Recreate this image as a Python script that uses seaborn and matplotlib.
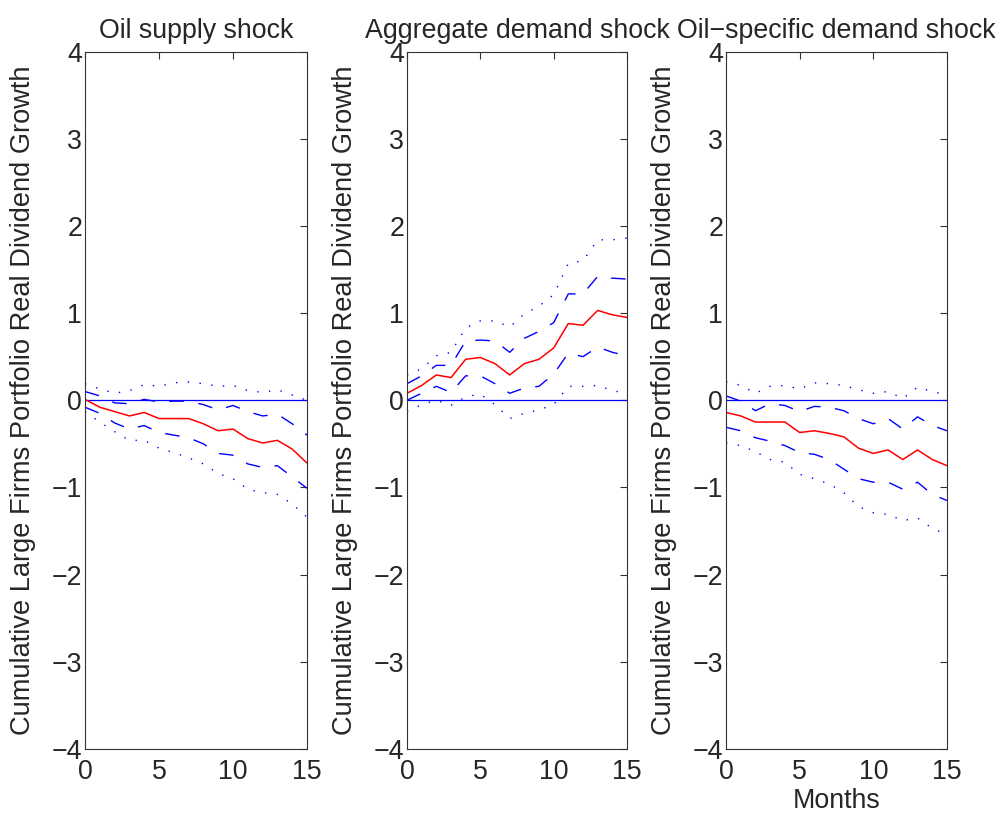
import numpy as np
import pandas as pd
import seaborn as sns
import matplotlib.pyplot as plt

# impulse responses, months 0..15
months = list(range(16))

titles = ["Oil supply shock", "Aggregate demand shock", "Oil\u2212specific demand shock"]
ylabel = "Cumulative Large Firms Portfolio Real Dividend Growth"

# oil supply shock
supply_irf = [0.01, -0.08, -0.13, -0.18, -0.14, -0.21, -0.21, -0.21, -0.27, -0.35, -0.33, -0.44, -0.49, -0.46, -0.56, -0.72]
supply_up1 = [0.10, 0.05, -0.03, -0.04, 0.01, -0.02, -0.01, -0.01, -0.05, -0.11, -0.06, -0.13, -0.18, -0.16, -0.27, -0.40]
supply_lo1 = [-0.08, -0.15, -0.26, -0.33, -0.29, -0.37, -0.40, -0.43, -0.50, -0.61, -0.63, -0.73, -0.77, -0.75, -0.88, -1.01]
supply_up2 = [0.19, 0.13, 0.08, 0.11, 0.18, 0.16, 0.20, 0.21, 0.19, 0.16, 0.17, 0.11, 0.09, 0.12, 0.06, 0.00]
supply_lo2 = [-0.13, -0.25, -0.36, -0.46, -0.46, -0.55, -0.60, -0.66, -0.73, -0.84, -0.90, -1.02, -1.06, -1.08, -1.19, -1.34]

# aggregate demand shock
demand_irf = [0.08, 0.17, 0.29, 0.26, 0.47, 0.49, 0.42, 0.29, 0.42, 0.47, 0.60, 0.88, 0.86, 1.03, 0.98, 0.95]
demand_up1 = [0.19, 0.28, 0.40, 0.40, 0.68, 0.69, 0.68, 0.55, 0.71, 0.79, 0.89, 1.22, 1.22, 1.42, 1.40, 1.39]
demand_lo1 = [0.00, 0.08, 0.16, 0.09, 0.28, 0.28, 0.19, 0.08, 0.14, 0.16, 0.30, 0.54, 0.50, 0.61, 0.55, 0.51]
demand_up2 = [0.29, 0.36, 0.51, 0.55, 0.83, 0.91, 0.91, 0.84, 0.99, 1.08, 1.21, 1.57, 1.60, 1.84, 1.84, 1.86]
demand_lo2 = [-0.13, -0.05, 0.00, -0.06, 0.04, 0.07, -0.05, -0.21, -0.15, -0.11, -0.05, 0.16, 0.16, 0.17, 0.11, 0.08]

# oil-specific demand shock
specific_irf = [-0.14, -0.18, -0.25, -0.25, -0.25, -0.37, -0.35, -0.38, -0.42, -0.55, -0.61, -0.57, -0.68, -0.57, -0.68, -0.75]
specific_up1 = [0.05, -0.01, -0.12, -0.04, -0.06, -0.13, -0.07, -0.08, -0.12, -0.21, -0.27, -0.21, -0.33, -0.19, -0.29, -0.35]
specific_lo1 = [-0.31, -0.35, -0.43, -0.47, -0.52, -0.60, -0.62, -0.68, -0.79, -0.90, -0.94, -0.94, -1.02, -0.94, -1.08, -1.15]
specific_up2 = [0.21, 0.17, 0.08, 0.16, 0.17, 0.13, 0.20, 0.19, 0.17, 0.12, 0.08, 0.10, 0.02, 0.15, 0.10, 0.06]
specific_lo2 = [-0.49, -0.52, -0.59, -0.68, -0.71, -0.85, -0.90, -0.96, -1.06, -1.22, -1.29, -1.31, -1.38, -1.35, -1.47, -1.54]

panels = [
    (supply_irf, supply_up1, supply_lo1, supply_up2, supply_lo2),
    (demand_irf, demand_up1, demand_lo1, demand_up2, demand_lo2),
    (specific_irf, specific_up1, specific_lo1, specific_up2, specific_lo2),
]

sns.set_style("white")
plt.rcParams['font.family'] = ['Liberation Sans', 'DejaVu Sans']
plt.rcParams['axes.unicode_minus'] = True

fig = plt.figure(figsize=(10.02, 8.15), dpi=100)
lefts = [85, 407, 726]
widths = [222, 220, 221]
fs = 19.3

for i, (irf, up1, lo1, up2, lo2) in enumerate(panels):
    ax = fig.add_axes([lefts[i] / 1002, 1 - 749 / 815, widths[i] / 1002, 697.5 / 815])
    df = pd.DataFrame({"month": months, "irf": irf, "up1": up1, "lo1": lo1, "up2": up2, "lo2": lo2})
    ax.axhline(0, color="blue", lw=0.9)
    # 2 s.e. bands dotted, 1 s.e. bands dashed
    for col in ["up2", "lo2"]:
        sns.lineplot(data=df, x="month", y=col, ax=ax, color="blue", lw=1.0,
                     linestyle=(0, (1, 7.5)))
    for col in ["up1", "lo1"]:
        sns.lineplot(data=df, x="month", y=col, ax=ax, color="blue", lw=1.0,
                     linestyle=(0, (10.5, 10.5)))
    sns.lineplot(data=df, x="month", y="irf", ax=ax, color="red", lw=1.1)

    ax.set_xlim(0, 15)
    ax.set_ylim(-4, 4)
    ax.set_xticks([0, 5, 10, 15])
    ax.set_yticks([-4, -3, -2, -1, 0, 1, 2, 3, 4])
    ax.tick_params(direction="in", length=5, width=0.8, labelsize=fs, color="#333333",
                   top=True, right=True, pad=2)
    ax.tick_params(axis="x", pad=7)
    for s in ax.spines.values():
        s.set_color("#333333")
        s.set_linewidth(0.8)
    ax.set_title(titles[i], fontsize=fs, pad=10)
    ax.set_ylabel(ylabel, fontsize=19.6, labelpad=11)
    if i == 2:
        ax.set_xlabel("Months", fontsize=fs, labelpad=2)
    else:
        ax.set_xlabel("")

fig.savefig("out.png", dpi=100)
